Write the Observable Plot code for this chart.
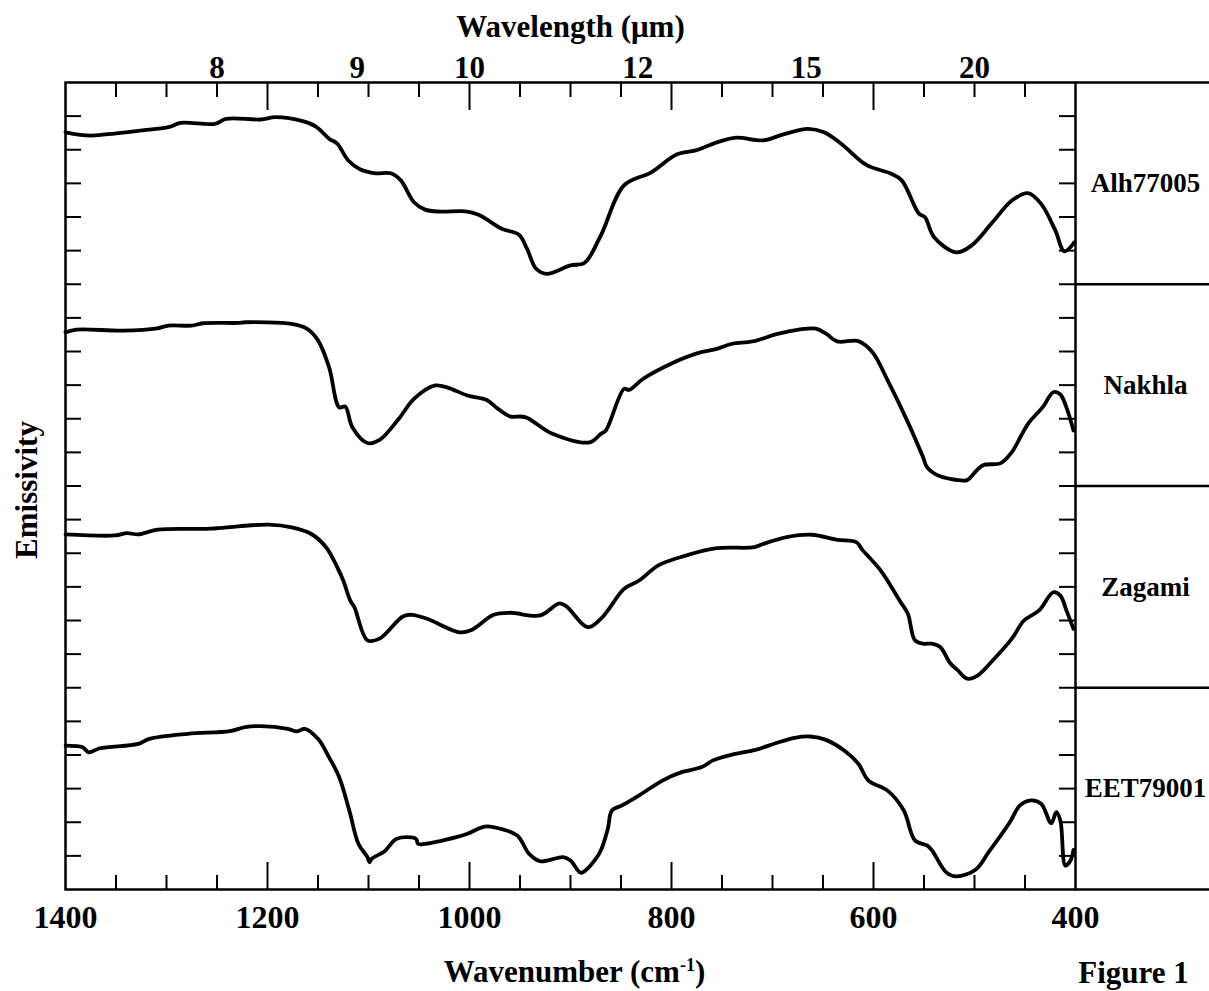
<!DOCTYPE html>
<html>
<head>
<meta charset="utf-8">
<script src="https://cdn.jsdelivr.net/npm/d3@7"></script>
<script src="https://cdn.jsdelivr.net/npm/@observablehq/plot@0.6"></script>
<style>
  html, body { margin: 0; padding: 0; background: #fff; }
</style>
</head>
<body>
<div id="chart"></div>
<script>
// ---- Data (emissivity spectra, vertically offset; y in tick-interval units) ----
const samples = ["Alh77005", "Nakhla", "Zagami", "EET79001"];

const alhWn = [1400,1375,1350,1320,1298,1286,1252,1241,1207,1192,1165,1152,1139,1131,1120,1108,1093,1078,1068,1055,1044,1029,1004,991,968,951,943,934,924,900,886,870,847,820,795,776,755,736,709,690,665,649,632,607,582,572,555,549,540,518,503,482,463,447,434,420,411,401];
const alhE = [22.52,22.42,22.49,22.59,22.67,22.80,22.77,22.92,22.90,22.97,22.85,22.69,22.33,22.18,21.68,21.41,21.30,21.30,21.09,20.44,20.22,20.16,20.17,20.07,19.65,19.47,19.05,18.46,18.31,18.56,18.64,19.45,20.94,21.33,21.86,21.98,22.22,22.36,22.28,22.45,22.62,22.52,22.18,21.55,21.28,21.09,20.10,19.99,19.40,18.95,19.15,19.85,20.49,20.71,20.39,19.60,18.98,19.25];

const nakWn = [1400,1389,1343,1309,1298,1275,1264,1229,1222,1176,1161,1150,1139,1129,1123,1116,1101,1089,1070,1055,1034,1021,1002,983,972,960,945,919,881,870,865,847,842,828,801,774,755,740,720,694,674,657,647,636,615,601,586,566,551,547,536,511,507,492,474,463,447,432,422,415,409,402];
const nakE = [16.57,16.65,16.62,16.69,16.77,16.77,16.84,16.85,16.87,16.82,16.68,16.33,15.53,14.34,14.36,13.75,13.28,13.37,14.00,14.59,14.99,14.92,14.69,14.56,14.30,14.07,14.05,13.57,13.30,13.55,13.65,14.89,14.86,15.19,15.63,15.95,16.08,16.23,16.30,16.53,16.65,16.68,16.53,16.30,16.31,15.98,15.14,13.90,12.86,12.56,12.31,12.16,12.18,12.61,12.68,13.01,13.85,14.36,14.79,14.72,14.34,13.65];

const zagWn = [1400,1351,1339,1328,1309,1256,1229,1199,1176,1157,1142,1131,1125,1118,1114,1101,1089,1066,1057,1042,1010,998,976,960,930,911,904,883,870,863,847,832,813,786,755,718,709,686,661,636,617,611,593,574,566,559,551,542,534,524,517,507,497,482,463,451,436,422,415,409,402];
const zagE = [10.56,10.53,10.60,10.56,10.70,10.73,10.80,10.85,10.77,10.58,10.18,9.59,9.19,8.59,8.40,7.41,7.46,8.12,8.17,8.05,7.65,7.72,8.17,8.23,8.15,8.51,8.42,7.80,8.05,8.30,8.94,9.19,9.64,9.93,10.15,10.18,10.28,10.48,10.55,10.40,10.33,10.10,9.49,8.59,8.20,7.41,7.31,7.31,7.21,6.73,6.53,6.27,6.36,6.81,7.46,8.00,8.30,8.84,8.74,8.30,7.75];

const eetWn = [1400,1383,1377,1366,1328,1317,1279,1237,1222,1207,1180,1171,1163,1150,1139,1129,1119,1110,1101,1099,1097,1084,1072,1053,1051,1044,1013,1002,985,976,953,941,930,907,900,890,885,875,870,863,859,849,832,809,790,770,759,740,717,697,678,663,647,628,615,605,586,570,559,547,542,528,518,499,486,465,455,444,434,424,419,415,410,405,402];
const eetE = [4.28,4.23,4.08,4.20,4.33,4.48,4.63,4.71,4.83,4.86,4.78,4.70,4.78,4.48,3.93,3.34,2.35,1.36,0.96,0.81,0.91,1.14,1.51,1.51,1.36,1.36,1.56,1.66,1.87,1.85,1.61,1.06,0.84,0.96,0.86,0.50,0.57,0.91,1.16,1.81,2.35,2.50,2.80,3.24,3.49,3.64,3.84,4.01,4.15,4.35,4.51,4.55,4.45,4.11,3.74,3.24,2.94,2.35,1.46,1.31,1.16,0.51,0.39,0.59,1.11,2.00,2.50,2.65,2.55,1.97,2.30,2.05,0.71,0.86,1.18];

// ---- Axis / tick values ----
const wavenumberTicks = [1400, 1200, 1000, 800, 600, 400];
const wavelengthTicks = [8, 9, 10, 12, 15, 20];
const majorX = [1200, 1000, 800, 600];
const minorX = [1350, 1300, 1250, 1150, 1100, 1050, 950, 900, 850, 750, 700, 650, 550, 500, 450];
const yTicks = [1,2,3,4,5,6,7,8,9,10,11,12,13,14,15,16,17,18,19,20,21,22,23];
const panelBounds = [0, 6, 12, 18, 24];

// ---- Build table ----
const seriesWn = [alhWn, nakWn, zagWn, eetWn];
const seriesE = [alhE, nakE, zagE, eetE];
const rows = samples.flatMap((s, i) => seriesWn[i].map((w, j) => ({sample: s, wn: w, e: seriesE[i][j]})));
const labels = samples.map((s, i) => ({sample: s, y: (panelBounds[4 - i] + panelBounds[3 - i]) / 2}));

// ---- Layout ----
const W = 1209, H = 991, mL = 65, mR = 134, mT = 82, mB = 102;
const fw = W - mL - mR;
const fh = H - mT - mB;
const font = "'Liberation Serif', 'Times New Roman', Times, serif";

const chart = Plot.plot({
  width: W,
  height: H,
  marginLeft: mL,
  marginRight: mR,
  marginTop: mT,
  marginBottom: mB,
  style: {fontFamily: font, fontWeight: "bold", background: "white", color: "black", overflow: "visible"},
  x: {domain: [1400, 400]},
  y: {domain: [0, 24], axis: null},
  marks: [
    // bottom wavenumber labels
    Plot.axisX({anchor: "bottom", ticks: wavenumberTicks, tickSize: 0, tickPadding: 16,
      tickFormat: d => String(d), fontSize: 32, fontWeight: "bold", label: null}),
    // top wavelength labels
    Plot.axisX({anchor: "top", ticks: wavelengthTicks.map(l => 1e4 / l), tickSize: 0, tickPadding: 5,
      tickFormat: d => String(Math.round(1e4 / d)), fontSize: 31, fontWeight: "bold", label: null}),
    // inward ticks
    Plot.tickX(minorX, {x: d => d, insetTop: fh - 14, strokeWidth: 2}),
    Plot.tickX(majorX, {x: d => d, insetTop: fh - 27, strokeWidth: 2}),
    Plot.tickX(minorX, {x: d => d, insetBottom: fh - 15, strokeWidth: 2}),
    Plot.tickX(majorX, {x: d => d, insetBottom: fh - 28, strokeWidth: 2}),
    Plot.tickY(yTicks, {y: d => d, insetRight: fw - 16, strokeWidth: 2}),
    Plot.tickY(yTicks, {y: d => d, insetLeft: fw - 16, strokeWidth: 2}),
    Plot.frame({strokeWidth: 2.5}),
    // label box at right
    Plot.ruleY(panelBounds, {y: d => d, insetLeft: fw, insetRight: -mR, strokeWidth: 2.5}),
    Plot.text(labels, {y: "y", text: "sample", frameAnchor: "right", dx: 70, textAnchor: "middle",
      fontSize: 27, fontWeight: "bold"}),
    // spectra
    Plot.line(rows, {x: "wn", y: "e", z: "sample", stroke: "black", strokeWidth: 3.8,
      curve: "catmull-rom", strokeLinejoin: "round", strokeLinecap: "round"}),
    // titles
    Plot.text(["Wavelength (\u03BCm)"], {frameAnchor: "top", dy: -46, lineAnchor: "bottom", textAnchor: "middle", fontSize: 31, fontWeight: "bold"}),
    Plot.text(["Wavenumber (cm-1)"], {frameAnchor: "bottom", dx: 4, dy: 92, lineAnchor: "bottom", textAnchor: "middle", fontSize: 31, fontWeight: "bold"}),
    Plot.text(["Emissivity"], {frameAnchor: "left", rotate: -90, dx: -38, dy: 4, textAnchor: "middle", fontSize: 31, fontWeight: "bold"}),
    Plot.text(["Figure 1"], {frameAnchor: "bottom-right", dx: 58, dy: 93, lineAnchor: "bottom", textAnchor: "middle", fontSize: 31, fontWeight: "bold"})
  ]
});

// superscript for cm^-1
chart.querySelectorAll("text").forEach(t => {
  if (t.textContent === "Wavenumber (cm-1)") {
    t.textContent = "Wavenumber (cm";
    const ns = "http://www.w3.org/2000/svg";
    const sup = document.createElementNS(ns, "tspan");
    sup.setAttribute("dy", "-11");
    sup.setAttribute("font-size", "18");
    sup.textContent = "-1";
    const close = document.createElementNS(ns, "tspan");
    close.setAttribute("dy", "11");
    close.textContent = ")";
    t.appendChild(sup);
    t.appendChild(close);
  }
});

document.getElementById("chart").appendChild(chart);
</script>
</body>
</html>
